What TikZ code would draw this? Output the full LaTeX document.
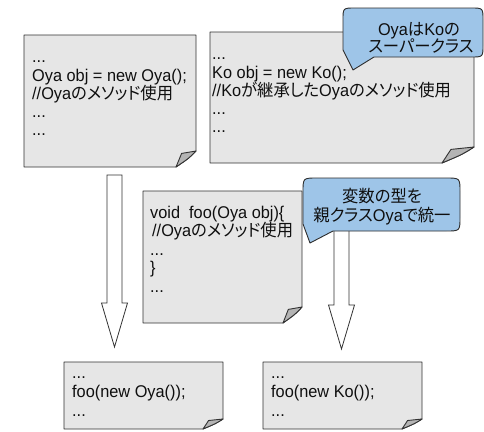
\documentclass[tikz,border=0pt]{standalone}
\usepackage{fontspec}
\setmainfont{Liberation Sans}[FakeStretch=0.96]
\newfontfamily\jp{Noto Sans CJK JP}[FakeStretch=0.96, RawFeature=+palt]
\usetikzlibrary{calc}
\definecolor{notefill}{RGB}{230,230,230}
\definecolor{noteline}{RGB}{50,50,50}
\definecolor{flapfill}{RGB}{180,180,180}
\definecolor{bubblefill}{RGB}{158,197,232}
\definecolor{bubbledraw}{RGB}{45,45,45}
\definecolor{txt}{RGB}{15,15,15}
\tikzset{
  notebody/.style={fill=notefill, draw=noteline, line width=0.9pt, line join=round},
  noteflap/.style={fill=flapfill, draw=noteline, line width=0.9pt, line join=round},
  bubble/.style={fill=bubblefill, draw=bubbledraw, line width=0.9pt, line join=round},
  blockarr/.style={fill=white, draw=noteline, line width=0.8pt, line join=miter},
  codeline/.style={anchor=base west, inner sep=0, text=txt, font=\fontsize{17}{19}\selectfont},
  bubbletext/.style={anchor=base, inner sep=0, text=txt, font=\fontsize{17}{19}\selectfont},
  boxnode/.style={inner sep=0, draw=none},
}
% #1 name, #2 L, #3 T, #4 R, #5 B, #6 fold width, #7 fold height
\newcommand\notebox[7]{%
  \filldraw[notebody] (#2,#3) -- (#4,#3) -- (#4,#5-#7)
    .. controls (#4-0.35*#6,#5-0.55*#7) .. (#4-#6,#5) -- (#2,#5) -- cycle;
  \filldraw[noteflap] (#4-#6,#5) -- (#4-0.72*#6,#5-0.85*#7) -- (#4,#5-#7)
    .. controls (#4-0.35*#6,#5-0.55*#7) .. (#4-#6,#5) -- cycle;
  \node[boxnode, minimum width={(#4-#2)*1pt}, minimum height={(#5-#3)*1pt}]
    (#1) at ({(#2+#4)/2},{(#3+#5)/2}) {};
}
% block arrow from #1 (top) to #2 (tip)
\newcommand\blockarrow[2]{%
  \filldraw[blockarr] let \p1=(#1), \p2=(#2) in
    (\x1-7.5pt,\y1) -- (\x1+7.5pt,\y1) -- (\x1+7.5pt,\y2+44pt) -- (\x1+13pt,\y2+44pt)
    -- (\x1,\y2) -- (\x1-13pt,\y2+44pt) -- (\x1-7.5pt,\y2+44pt) -- cycle;
}
\begin{document}
\begin{tikzpicture}[x=1pt,y=-1pt]
\useasboundingbox (0,0) rectangle (484,431);
\fill[white] (0,0) rectangle (484,431);

% notes
\notebox{b1}{24}{35}{196}{167}{20}{16}
\notebox{b2}{210}{32}{474}{163}{32}{16}
\notebox{b3}{143}{191}{302}{323}{19}{16}
\notebox{b4}{64}{362}{223}{429}{20}{10}
\notebox{b5}{263}{362}{422}{429}{20}{10}

% text of note 1
\node[codeline] (b1l1) at (32,62) {...};
\node[codeline] (b1l2) at (32,81) {Oya obj = new Oya();};
\node[codeline] (b1l3) at (32,99) {//Oya{\jp のメソッド使用}};
\node[codeline] (b1l4) at (32,117) {...};
\node[codeline] (b1l5) at (32,135) {...};

% text of note 2
\node[codeline] (b2l1) at (212,59) {...};
\node[codeline] (b2l2) at (212,78) {Ko obj = new Ko();};
\node[codeline] (b2l3) at (212,96) {//Ko{\jp が継承した}Oya{\jp のメソッド使用}};
\node[codeline] (b2l4) at (212,114) {...};
\node[codeline] (b2l5) at (212,132) {...};

% text of note 3
\node[codeline] (b3l1) at (150,218) {void\ \ foo(Oya obj)\{};
\node[codeline] (b3l2) at (152,236.5) {//Oya{\jp のメソッド使用}};
\node[codeline] (b3l3) at (150,255) {...};
\node[codeline] (b3l4) at (150,273.5) {\}};
\node[codeline] (b3l5) at (150,292) {...};

% text of bottom notes
\node[codeline] (b4l1) at (72,378) {...};
\node[codeline] (b4l2) at (72,397) {foo(new Oya());};
\node[codeline] (b4l3) at (72,416) {...};
\node[codeline] (b5l1) at (271,378) {...};
\node[codeline] (b5l2) at (271,397) {foo(new Ko());};
\node[codeline] (b5l3) at (271,416) {...};

% block arrows
\coordinate (a1top) at (114.5,175);
\coordinate (a1tip) at (114.5,347);
\coordinate (a2top) at (341.5,228);
\coordinate (a2tip) at (341.5,349);
\blockarrow{a1top}{a1tip}
\blockarrow{a2top}{a2tip}

% callout 1
\coordinate (c1tip) at (353,70);
\filldraw[bubble] (343,50) -- (c1tip) -- (374,57) -- (471,57) .. controls (483,57) .. (483,45)
  -- (483,20) .. controls (483,8) .. (471,8) -- (355,8) .. controls (343,8) .. (343,20) -- cycle;
\node[boxnode, minimum width=140pt, minimum height=49pt] (c1) at (413,32.5) {};
\node[bubbletext] (c1a) at (419,35) {Oya{\jp は}Ko{\jp の}};
\node[bubbletext] (c1b) at (421,52) {\jp スーパークラス};

% callout 2
\coordinate (c2tip) at (310,243);
\filldraw[bubble] (303,224) -- (c2tip) -- (333,231) -- (446,231) .. controls (460,231) .. (460,217)
  -- (460,192) .. controls (460,178) .. (446,178) -- (317,178) .. controls (303,178) .. (303,192) -- cycle;
\node[boxnode, minimum width=157pt, minimum height=53pt] (c2) at (381.5,204.5) {};
\node[bubbletext] (c2a) at (382,202) {\jp 変数の型を};
\node[bubbletext] (c2b) at (382,221) {{\jp 親クラス}Oya{\jp で統一}};
\end{tikzpicture}
\end{document}
